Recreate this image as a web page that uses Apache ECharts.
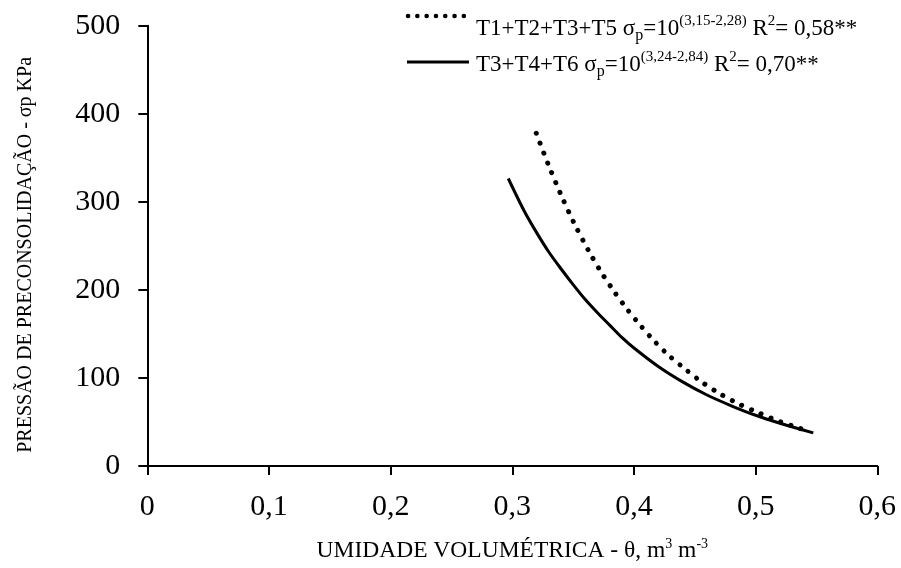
<!DOCTYPE html>
<html>
<head>
<meta charset="utf-8">
<script src="https://cdn.jsdelivr.net/npm/echarts@6/dist/echarts.min.js"></script>
<style>
html,body{margin:0;padding:0;background:#fff;}
#chart{width:901px;height:568px;}
</style>
</head>
<body>
<div id="chart"></div>
<script>
// Tick labels
var xTickLabels = ['0', '0,1', '0,2', '0,3', '0,4', '0,5', '0,6'];
var yTickLabels = ['0', '100', '200', '300', '400', '500'];

// Series 1: T1+T2+T3+T5 (dotted)
var dotTheta = [0.3197, 0.3293, 0.3398, 0.3510, 0.3633, 0.3723, 0.3825, 0.3929, 0.4039, 0.4156, 0.4282, 0.4419, 0.4559, 0.4707, 0.4863, 0.5027, 0.5192, 0.5359, 0.5447];
var dotSigma = [377.9, 343.4, 308.7, 275.2, 242.9, 221.8, 200.6, 180.7, 161.9, 143.5, 126.1, 110.3, 95.2, 82.0, 70.4, 60.2, 50.8, 42.9, 39.5];

// Series 2: T3+T4+T6 (solid)
var solidTheta = [0.2967, 0.31, 0.32, 0.33, 0.34, 0.35, 0.36, 0.37, 0.38, 0.39, 0.40, 0.42, 0.44, 0.46, 0.48, 0.50, 0.52, 0.5474];
var solidSigma = [326.5, 289, 265, 243, 224, 206, 189, 174, 160, 146, 134, 113, 95.5, 80.6, 68.4, 57.6, 48.6, 37.6];

function zip(a, b) { return a.map(function (v, i) { return [v, b[i]]; }); }

var FONT = "'Liberation Serif', 'Times New Roman', serif";
var chart = echarts.init(document.getElementById('chart'), null, {renderer: 'canvas'});

var legendRich = {
  n: {fontFamily: FONT, fontSize: 23, color: '#000', lineHeight: 30},
  sup: {fontFamily: FONT, fontSize: 15, color: '#000', verticalAlign: 'top'},
  sub: {fontFamily: FONT, fontSize: 16, color: '#000', verticalAlign: 'bottom'}
};

chart.setOption({
  animation: false,
  backgroundColor: '#fff',
  grid: {left: 147.3, right: 23.7, top: 25.7, bottom: 99.7, containLabel: false},
  xAxis: {
    type: 'value', min: 0, max: 0.6, interval: 0.1,
    name: '{a|UMIDADE VOLUMÉTRICA - θ, m}{s|3}{a| m}{s|-3}',
    nameLocation: 'middle', nameGap: 71,
    nameTextStyle: {
      rich: {
        a: {fontFamily: FONT, fontSize: 23.5, color: '#000', lineHeight: 28},
        s: {fontFamily: FONT, fontSize: 14, color: '#000', verticalAlign: 'top'}
      }
    },
    axisLine: {show: true, lineStyle: {color: '#000', width: 2}},
    axisTick: {show: true, inside: false, length: 9, lineStyle: {color: '#000', width: 2}},
    axisLabel: {
      margin: 26, fontFamily: FONT, fontSize: 30, color: '#000',
      formatter: function (v) { return xTickLabels[Math.round(v * 10)]; }
    },
    splitLine: {show: false}
  },
  yAxis: {
    type: 'value', min: 0, max: 500, interval: 100,
    name: 'PRESSÃO DE PRECONSOLIDAÇÃO - σp KPa',
    nameLocation: 'middle', nameGap: 112,
    nameTextStyle: {fontFamily: FONT, fontSize: 20, color: '#000', padding: [0, 18, 0, 0]},
    axisLine: {show: true, lineStyle: {color: '#000', width: 2}},
    axisTick: {show: true, inside: false, length: 9, lineStyle: {color: '#000', width: 2}},
    axisLabel: {
      margin: 27, fontFamily: FONT, fontSize: 30, color: '#000',
      formatter: function (v) { return yTickLabels[Math.round(v / 100)]; }
    },
    splitLine: {show: false}
  },
  series: [
    {
      name: 'T1+T2+T3+T5', type: 'line', data: zip(dotTheta, dotSigma),
      smooth: 0.3, symbol: 'none',
      lineStyle: {color: '#000', width: 5, type: [0.1, 10.5], cap: 'round'}
    },
    {
      name: 'T3+T4+T6', type: 'line', data: zip(solidTheta, solidSigma),
      smooth: 0.3, symbol: 'none',
      lineStyle: {color: '#000', width: 3}
    }
  ],
  graphic: [
    {type: 'line', shape: {x1: 408, y1: 16, x2: 464, y2: 16},
     style: {stroke: '#000', lineWidth: 4.5, lineDash: [0.1, 9.2], lineCap: 'round'}},
    {type: 'line', shape: {x1: 407, y1: 62, x2: 469, y2: 62},
     style: {stroke: '#000', lineWidth: 3}},
    {type: 'text', left: 476, top: 14,
     style: {text: '{n|T1+T2+T3+T5 σ}{sub|p}{n|=10}{sup|(3,15-2,28)}{n| R}{sup|2}{n|= 0,58**}', rich: legendRich}},
    {type: 'text', left: 476, top: 50,
     style: {text: '{n|T3+T4+T6 σ}{sub|p}{n|=10}{sup|(3,24-2,84)}{n| R}{sup|2}{n|= 0,70**}', rich: legendRich}}
  ]
});
</script>
</body>
</html>
